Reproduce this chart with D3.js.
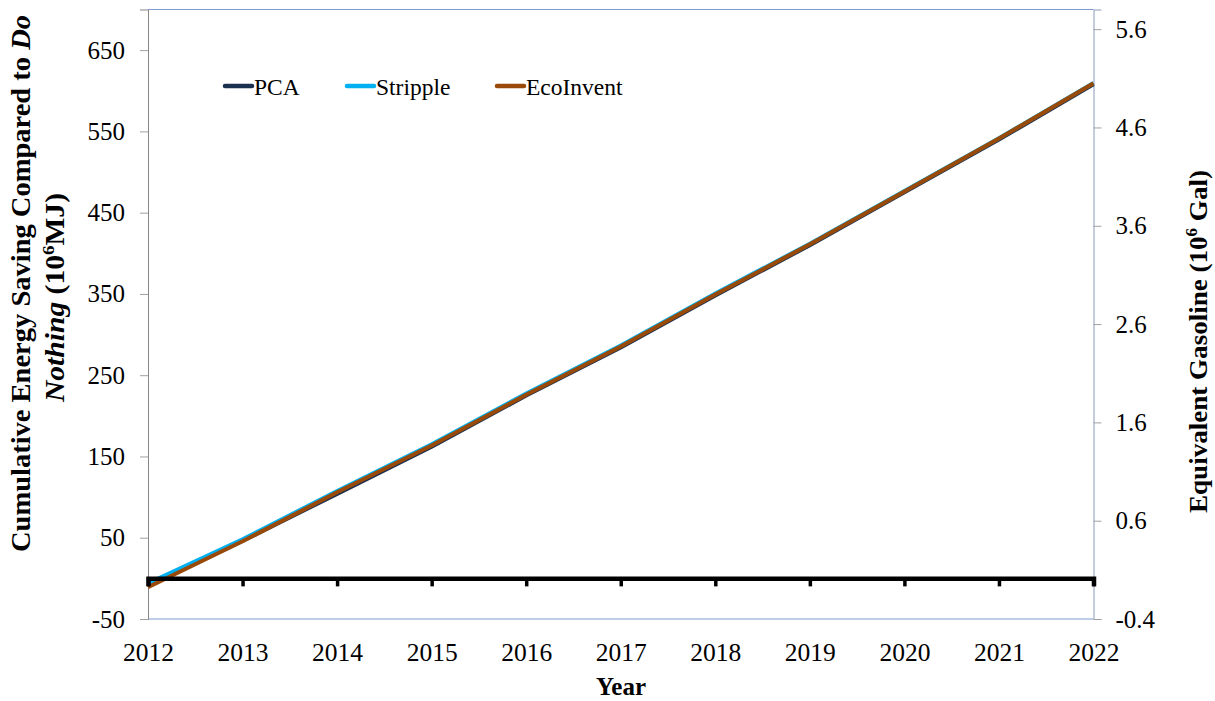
<!DOCTYPE html>
<html>
<head>
<meta charset="utf-8">
<script src="https://cdn.jsdelivr.net/npm/d3@7"></script>
<style>
  html, body { margin: 0; padding: 0; background: #fff; }
  svg { display: block; font-family: "Liberation Serif", "Times New Roman", serif; }
</style>
</head>
<body>
<svg id="chart" width="1215" height="701"></svg>
<script>
// ---- data ----
const years = [2012, 2013, 2014, 2015, 2016, 2017, 2018, 2019, 2020, 2021, 2022];
const pcaValues = [-9, 46, 104, 162, 225, 284, 348, 410, 475, 540, 608];
const strippleValues = [-6, 48, 107.5, 165, 227.5, 286.5, 350.5, 411.8, 476.8, 541.6, 609.5];
const ecoinventValues = [-11, 45.6, 105.9, 163.4, 226, 285.3, 349.2, 411.1, 476.1, 541.2, 609.2];
const seriesNames = ["PCA", "Stripple", "EcoInvent"];
const seriesColors = ["#1b2f4e", "#00b0f0", "#9a4a08"];
const leftTicks = [-50, 50, 150, 250, 350, 450, 550, 650];
const rightTicks = [-0.4, 0.6, 1.6, 2.6, 3.6, 4.6, 5.6];

// ---- layout ----
const L = 148, R = 1093.5, T = 9.5, B = 619;
const svg = d3.select("#chart");

const x = d3.scaleLinear().domain([2012, 2022]).range([L, R]);
const y = d3.scaleLinear().domain([-50, 700]).range([B, T]);
const y2 = d3.scaleLinear().domain([-0.4, 5.8]).range([B, T]);

// plot border (top and bottom blue-ish)
svg.append("line").attr("x1", L).attr("x2", R).attr("y1", T).attr("y2", T)
  .attr("stroke", "#7d9bd0").attr("stroke-width", 1);
svg.append("line").attr("x1", L).attr("x2", R).attr("y1", B).attr("y2", B)
  .attr("stroke", "#7d9bd0").attr("stroke-width", 1);

// left axis
const yAxis = d3.axisLeft(y).tickValues(leftTicks).tickSize(8).tickPadding(15)
  .tickFormat(d => String(d));
const gL = svg.append("g").attr("transform", `translate(${L},0)`).call(yAxis);
gL.attr("font-family", "Liberation Serif");
gL.select(".domain").attr("stroke", "#868686");
gL.selectAll(".tick line").attr("stroke", "#a0a0a0");
gL.selectAll(".tick text").attr("font-size", 25).attr("fill", "#000");

// right axis
const yAxis2 = d3.axisRight(y2).tickValues(rightTicks).tickSize(8).tickPadding(14)
  .tickFormat(d => d.toFixed(1));
const gR = svg.append("g").attr("transform", `translate(${R},0)`).call(yAxis2);
gR.attr("font-family", "Liberation Serif");
gR.select(".domain").attr("stroke", "#8a9bb8");
gR.selectAll(".tick line").attr("stroke", "#a0a0a0");
gR.selectAll(".tick text").attr("font-size", 25).attr("fill", "#000");

// x tick labels at bottom
const xAxisB = d3.axisBottom(x).tickValues(years).tickSize(0).tickPadding(24)
  .tickFormat(d => String(d));
const gB = svg.append("g").attr("transform", `translate(0,${B})`).call(xAxisB);
gB.attr("font-family", "Liberation Serif");
gB.select(".domain").remove();
gB.selectAll(".tick text").attr("font-size", 25.5).attr("fill", "#000");

// series lines
const seriesData = [pcaValues, strippleValues, ecoinventValues];
const line = d3.line().x((d, i) => x(years[i])).y(d => y(d));
seriesData.forEach((vals, k) => {
  svg.append("path").datum(vals).attr("d", line)
    .attr("fill", "none").attr("stroke", seriesColors[k])
    .attr("stroke-width", 4).attr("stroke-linejoin", "round");
});

// x axis line at zero (thick black) with ticks
const xAxisZero = d3.axisBottom(x).tickValues(years).tickSize(8).tickFormat("");
const gZ = svg.append("g").attr("transform", `translate(0,${y(0)})`).call(xAxisZero);
gZ.select(".domain").attr("stroke", "#000").attr("stroke-width", 4.5);
gZ.selectAll(".tick line").attr("stroke", "#000").attr("stroke-width", 3.5);

// legend
const legendX = [225, 347, 497];
seriesNames.forEach((name, k) => {
  const g = svg.append("g").attr("transform", `translate(${legendX[k]},86)`);
  g.append("line").attr("x1", 0).attr("x2", 27).attr("y1", 0).attr("y2", 0)
    .attr("stroke", seriesColors[k]).attr("stroke-width", 4.5).attr("stroke-linecap", "round");
  g.append("text").attr("x", 29).attr("y", 8.5).attr("font-size", 23.5).attr("fill", "#000")
    .text(name);
});

// x title
svg.append("text").attr("x", 621).attr("y", 695).attr("text-anchor", "middle")
  .attr("font-size", 25).attr("font-weight", "bold").text("Year");

// left title (two lines)
const t1 = svg.append("text").attr("transform", "translate(30,283.5) rotate(-90)")
  .attr("text-anchor", "middle").attr("font-size", 26.5).attr("font-weight", "bold")
  .attr("textLength", 537).attr("lengthAdjust", "spacingAndGlyphs");
t1.append("tspan").text("Cumulative Energy Saving Compared to ");
t1.append("tspan").attr("font-style", "italic").text("Do");

const t2 = svg.append("text").attr("transform", "translate(64,297.5) rotate(-90)")
  .attr("text-anchor", "middle").attr("font-size", 26.5).attr("font-weight", "bold")
  .attr("textLength", 209).attr("lengthAdjust", "spacingAndGlyphs");
t2.append("tspan").attr("font-style", "italic").text("Nothing");
t2.append("tspan").text(" (10");
t2.append("tspan").attr("font-size", 17).attr("dy", -10).text("6");
t2.append("tspan").attr("dy", 10).text("MJ)");

// right title
const t3 = svg.append("text").attr("transform", "translate(1207,341.5) rotate(-90)")
  .attr("text-anchor", "middle").attr("font-size", 25.5).attr("font-weight", "bold")
  .attr("textLength", 343).attr("lengthAdjust", "spacingAndGlyphs");
t3.append("tspan").text("Equivalent Gasoline (10");
t3.append("tspan").attr("font-size", 16).attr("dy", -10).text("6");
t3.append("tspan").attr("dy", 10).text(" Gal)");
</script>
</body>
</html>
